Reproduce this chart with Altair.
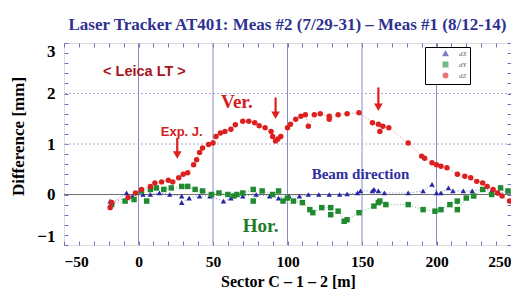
import altair as alt
import pandas as pd

# ---------------- data ----------------
series_names = ["dX", "dY", "dZ"]
series_colors = ["#2626a6", "#1f8a30", "#dc2020"]
series_shapes = ["triangle-up", "square", "circle"]

dx_x = [-19, -19, -8, -4, 3, 8, 14, 21, 29, 29, 34, 41, 48, 57, 62, 70, 79, 88, 94,
        101, 108, 114, 121, 128, 135, 140, 147, 149, 157, 158, 161, 165, 181, 191,
        197, 200, 203, 208, 211, 218, 224, 231, 237, 242, 248]
dx_y = [-0.13, -0.2, 0.03, -0.03, 0.0, 0.0, 0.03, 0.0, -0.03, -0.16, -0.07, -0.03,
        -0.03, -0.13, -0.07, -0.03, 0.0, -0.03, -0.07, -0.03, -0.03, 0.0, 0.0, 0.0,
        0.0, 0.01, 0.03, 0.07, 0.07, 0.1, 0.07, 0.03, 0.03, 0.07, 0.2, 0.03, 0.03,
        0.13, 0.07, 0.07, 0.07, 0.1, 0.07, 0.03, 0.07]

dy_x = [-18, -9, -3, 2, 5.5, 8, 12, 17, 22, 29, 33, 38, 43, 49, 54, 60, 64, 66, 70,
        77, 77, 83, 90, 94, 97, 100, 104, 110, 115, 117, 123, 129, 129, 134, 138,
        140, 148, 158, 161, 162, 166, 181, 191, 199, 203, 209, 214, 214, 220, 225,
        231, 237, 243, 248]
dy_y = [-0.2, -0.13, -0.1, 0.07, -0.13, 0.1, 0.13, 0.1, 0.13, 0.16, 0.16, 0.1, 0.07,
        0.0, 0.03, 0.0, -0.03, 0.0, 0.03, 0.1, -0.13, 0.07, 0.0, 0.07, -0.13, -0.07,
        -0.13, -0.16, -0.3, -0.36, -0.26, -0.26, -0.4, -0.33, -0.53, -0.5, -0.36,
        -0.23, -0.16, -0.13, -0.2, -0.2, -0.3, -0.33, -0.3, -0.2, -0.13, -0.3, -0.07,
        -0.03, 0.1, 0.0, 0.13, 0.07]

dz_x = [-19, -18, -7, -2, 2, 8, 11, 15.5, 20, 23, 27, 30, 33, 37, 39, 41, 43, 47, 50,
        52, 55, 58, 62, 65, 70, 74, 78, 81, 85, 89, 90, 92, 93.5, 95.5, 100, 102,
        105.5, 109, 112, 114, 118, 122, 128, 128, 134, 140, 148, 157, 161, 162, 164,
        168, 181, 190, 192, 197, 200, 203, 207, 214, 219, 223, 227, 231, 234, 238,
        241, 244, 249]
dz_y = [-0.26, -0.16, -0.06, 0.03, 0.1, 0.16, 0.23, 0.25, 0.28, 0.25, 0.33, 0.40,
        0.43, 0.59, 0.69, 0.83, 0.92, 0.99, 1.02, 1.15, 1.22, 1.25, 1.29, 1.38, 1.45,
        1.45, 1.42, 1.36, 1.32, 1.25, 1.15, 1.06, 1.1, 1.15, 1.32, 1.39, 1.49, 1.55,
        1.58, 1.35, 1.58, 1.60, 1.55, 1.49, 1.58, 1.60, 1.62, 1.42, 1.39, 1.25, 1.35,
        1.32, 1.02, 0.76, 0.72, 0.63, 0.59, 0.56, 0.53, 0.40, 0.36, 0.33, 0.26, 0.23,
        0.16, 0.10, 0.03, -0.03, -0.13]

# annotations
arrow_x = [26, 92, 161]
arrow_top = [1.12, 1.92, 2.12]
arrow_tip = [0.78, 1.57, 1.73]

ann_text = ["< Leica LT >", "Exp. J.", "Ver.", "Beam direction", "Hor."]
ann_x = [4, 29, 66, 149, 82]
ann_y = [2.42, 1.23, 1.84, 0.40, -0.63]
ann_color = ["#a8141e", "#d42020", "#d42020", "#2e2e9e", "#1f7a2a"]
ann_font = ["Liberation Sans", "Liberation Sans", "Liberation Serif",
            "Liberation Serif", "Liberation Serif"]
ann_size = [14.5, 13, 19, 15, 19]

grid_x = [0, 50, 100, 150, 200]
grid_y = [1, 2]
zero_y = [0]
x_ticks = list(range(-50, 251, 10))
y_ticks = [-1, -0.8, -0.6, -0.4, -0.2, 0, 0.2, 0.4, 0.6, 0.8, 1, 1.2, 1.4, 1.6,
           1.8, 2, 2.2, 2.4, 2.6, 2.8, 3]

# ---------------- build ----------------
rows = []
for name, xs, ys in zip(series_names, [dx_x, dy_x, dz_x], [dx_y, dy_y, dz_y]):
    for xv, yv in zip(xs, ys):
        rows.append({"series": name, "x": xv, "y": yv})
df = pd.DataFrame(rows)

xscale = alt.Scale(domain=[-50, 250], nice=False, zero=False)
yscale = alt.Scale(domain=[-1, 3], nice=False, zero=False)
serif = "Liberation Serif"
frame_col = "#7272b8"

bottom_axis = alt.Axis(
    orient="bottom", values=x_ticks, offset=-4, tickSize=4, tickColor=frame_col,
    domain=False, grid=False, labelFlush=True, labelFlushOffset=0,
    labelExpr="datum.value % 50 == 0 ? format(datum.value, 'd') : ''",
    labelFont=serif, labelFontWeight="bold", labelFontSize=15.5, labelColor="black",
    labelPadding=9,
    title="Sector C – 1 – 2  [m]", titleFont=serif, titleFontWeight="bold",
    titleFontSize=16, titleColor="black", titleX=224, titleY=40,
    titleBaseline="middle", titleAlign="center")
left_axis = alt.Axis(
    orient="left", values=y_ticks, offset=-4, tickSize=4, tickColor=frame_col,
    domain=False, grid=False, labelFlush=True,
    labelExpr="abs(datum.value - round(datum.value)) < 0.001 ? format(datum.value, 'd') : ''",
    labelFont=serif, labelFontWeight="bold", labelFontSize=17, labelColor="black",
    labelPadding=9,
    title="Difference [mm]", titleFont=serif, titleFontWeight="bold",
    titleFontSize=17, titleColor="black", titleX=-50, titleY=93,
    titleAngle=270, titleBaseline="middle", titleAlign="center")
top_axis = alt.Axis(orient="top", values=x_ticks, offset=-4, tickSize=4,
                    tickColor=frame_col, domain=False, grid=False, labels=False,
                    title=None)
right_axis = alt.Axis(orient="right", values=y_ticks, offset=-4, tickSize=4,
                      tickColor=frame_col, domain=False, grid=False, labels=False,
                      title=None)

color_scale = alt.Scale(domain=series_names, range=series_colors)
shape_scale = alt.Scale(domain=series_names, range=series_shapes)
legend = alt.Legend(orient="none", legendX=361, legendY=4, title=None,
                    fillColor="white", strokeColor="black",
                    padding=3, labelFont=serif, labelFontStyle="italic",
                    labelFontSize=7, labelColor="#666666", symbolSize=20,
                    rowPadding=0, symbolOffset=14, labelOffset=10)

# axes-defining layer (invisible points) and grid
axes_layer = alt.Chart(df).mark_point(opacity=0, size=1).encode(
    x=alt.X("x:Q", scale=xscale, axis=bottom_axis),
    y=alt.Y("y:Q", scale=yscale, axis=left_axis))
vgrid = alt.Chart(pd.DataFrame({"x": grid_x})).mark_rule(
    color="#8a8ac8", strokeWidth=1).encode(
    x=alt.X("x:Q", scale=xscale, axis=top_axis))
hgrid = alt.Chart(pd.DataFrame({"y": grid_y})).mark_rule(
    color="#a6a6d4", strokeWidth=1, strokeDash=[2, 2]).encode(
    y=alt.Y("y:Q", scale=yscale, axis=right_axis))
zero = alt.Chart(pd.DataFrame({"y": zero_y})).mark_rule(
    color="#707070", strokeWidth=1.2).encode(
    y=alt.Y("y:Q", scale=yscale, axis=None))

lines = alt.Chart(df).mark_line(strokeDash=[1, 2], strokeWidth=1, opacity=0.6).encode(
    x=alt.X("x:Q", scale=xscale, axis=None),
    y=alt.Y("y:Q", scale=yscale, axis=None),
    color=alt.Color("series:N", scale=color_scale, legend=legend))

points = alt.Chart(df).mark_point(filled=True, opacity=1, size=30).encode(
    x=alt.X("x:Q", scale=xscale, axis=None),
    y=alt.Y("y:Q", scale=yscale, axis=None),
    color=alt.Color("series:N", scale=color_scale, legend=legend),
    shape=alt.Shape("series:N", scale=shape_scale, legend=legend))

adf = pd.DataFrame({"x": arrow_x, "top": arrow_top, "tip": arrow_tip})
shafts = alt.Chart(adf).mark_rule(color="#e02020", strokeWidth=2.2).encode(
    x=alt.X("x:Q", scale=xscale, axis=None),
    y=alt.Y("top:Q", scale=yscale, axis=None), y2="tip:Q")
heads = alt.Chart(adf).mark_point(shape="triangle-down", filled=True, size=75,
                                  color="#e02020", opacity=1).encode(
    x=alt.X("x:Q", scale=xscale, axis=None),
    y=alt.Y("tip:Q", scale=yscale, axis=None))

texts = []
for t, xv, yv, c, f, s in zip(ann_text, ann_x, ann_y, ann_color, ann_font, ann_size):
    texts.append(alt.Chart(pd.DataFrame({"t": [t], "x": [xv], "y": [yv]})).mark_text(
        font=f, fontSize=s, fontWeight="bold", color=c, align="center",
        baseline="middle").encode(
        x=alt.X("x:Q", scale=xscale, axis=None),
        y=alt.Y("y:Q", scale=yscale, axis=None), text="t:N"))

chart = alt.layer(axes_layer, vgrid, hgrid, zero, lines, points, shafts, heads,
                  *texts).properties(
    width=447, height=202,
    autosize=alt.AutoSizeParams(type="none"),
    padding={"left": 56, "top": 35, "right": 0, "bottom": 44},
    title=alt.TitleParams(
        "Laser Tracker AT401: Meas #2 (7/29-31) – Meas #1 (8/12-14)",
        font=serif, fontSize=17, fontWeight="bold", color="#2e3192",
        anchor="middle", offset=8),
).configure_view(stroke=frame_col, strokeWidth=1.2).configure(background="white")

chart.save("out.html", embed_options={"renderer": "svg", "actions": False})
